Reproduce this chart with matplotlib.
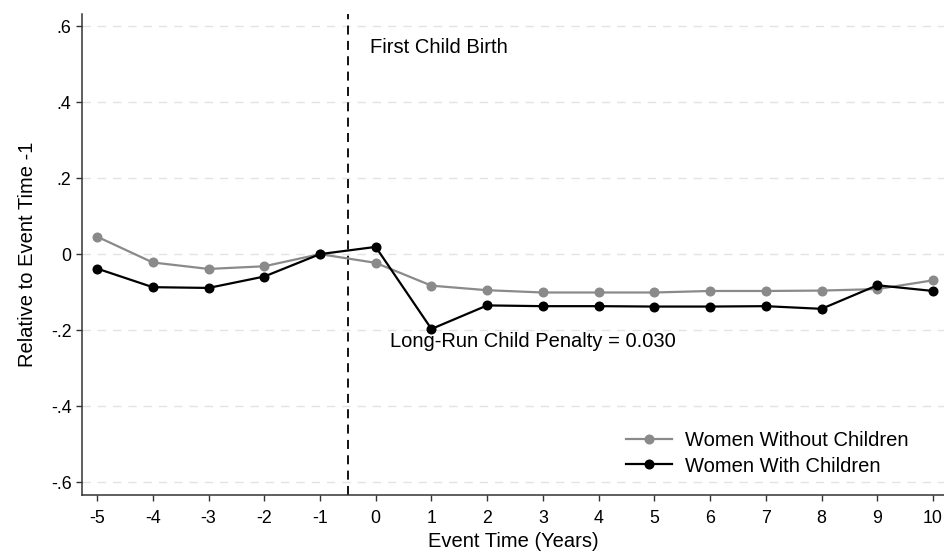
import numpy as np
import matplotlib
matplotlib.use("Agg")
import matplotlib.pyplot as plt

plt.rcParams['font.family'] = ['Liberation Sans', 'DejaVu Sans']

# event time (years relative to first birth)
event_time = [-5, -4, -3, -2, -1, 0, 1, 2, 3, 4, 5, 6, 7, 8, 9, 10]

# women without children (gray series)
no_children = [0.046, -0.022, -0.039, -0.032, 0.0, -0.023, -0.083, -0.095,
               -0.101, -0.101, -0.101, -0.097, -0.097, -0.096, -0.092, -0.069]
# women with children (black series)
with_children = [-0.038, -0.087, -0.089, -0.059, 0.0, 0.019, -0.197, -0.135,
                 -0.137, -0.137, -0.138, -0.138, -0.137, -0.144, -0.082, -0.097]

y_ticks = [-0.6, -0.4, -0.2, 0, 0.2, 0.4, 0.6]
y_tick_labels = ['-.6', '-.4', '-.2', '0', '.2', '.4', '.6']

fig = plt.figure(figsize=(9.45, 5.53), dpi=100)
ax = fig.add_axes([82 / 945, 58 / 553, 863 / 945, 481 / 553])

ax.set_xlim(-5.27, 10.215)
ax.set_ylim(-0.634, 0.632)

# light dashed grid lines at y ticks
for yv in y_ticks:
    ax.axhline(yv, color='#e3e3e3', lw=1.0, ls=(0, (6, 5)), zorder=0)

ax.axvline(-0.5, color='black', lw=1.3, ls=(0, (5, 3.5)), zorder=1)

ax.plot(event_time, no_children, color='#8a8a8a', lw=1.6, marker='o',
        markersize=6.2, label='Women Without Children', zorder=2)
ax.plot(event_time, with_children, color='black', lw=1.6, marker='o',
        markersize=6.2, label='Women With Children', zorder=3)

ax.text(-0.1, 0.545, 'First Child Birth', fontsize=14.5, va='center', ha='left')
ax.text(0.26, -0.229, 'Long-Run Child Penalty = 0.030', fontsize=14.5,
        va='center', ha='left')

ax.set_xticks(event_time)
ax.set_xticklabels([str(v) for v in event_time])
ax.set_yticks(y_ticks)
ax.set_yticklabels(y_tick_labels)
ax.tick_params(axis='both', direction='out', length=4.5, width=1.0,
               labelsize=12.8, color='#333333')
ax.tick_params(axis='x', pad=6)
ax.tick_params(axis='y', pad=3)

for side in ['top', 'right']:
    ax.spines[side].set_visible(False)
for side in ['left', 'bottom']:
    ax.spines[side].set_color('#333333')
    ax.spines[side].set_linewidth(1.1)

ax.set_xlabel('Event Time (Years)', fontsize=14.5, labelpad=4)
ax.set_ylabel('Relative to Event Time -1', fontsize=14.5, labelpad=10)

leg = ax.legend(loc='center left', bbox_to_anchor=(626 / 945, 1 - 453.5 / 553),
                bbox_transform=fig.transFigure, frameon=False,
                fontsize=14.5, handlelength=2.3, handletextpad=0.65,
                labelspacing=0.3, borderpad=0, borderaxespad=0)

fig.savefig('out.png', dpi=100)
